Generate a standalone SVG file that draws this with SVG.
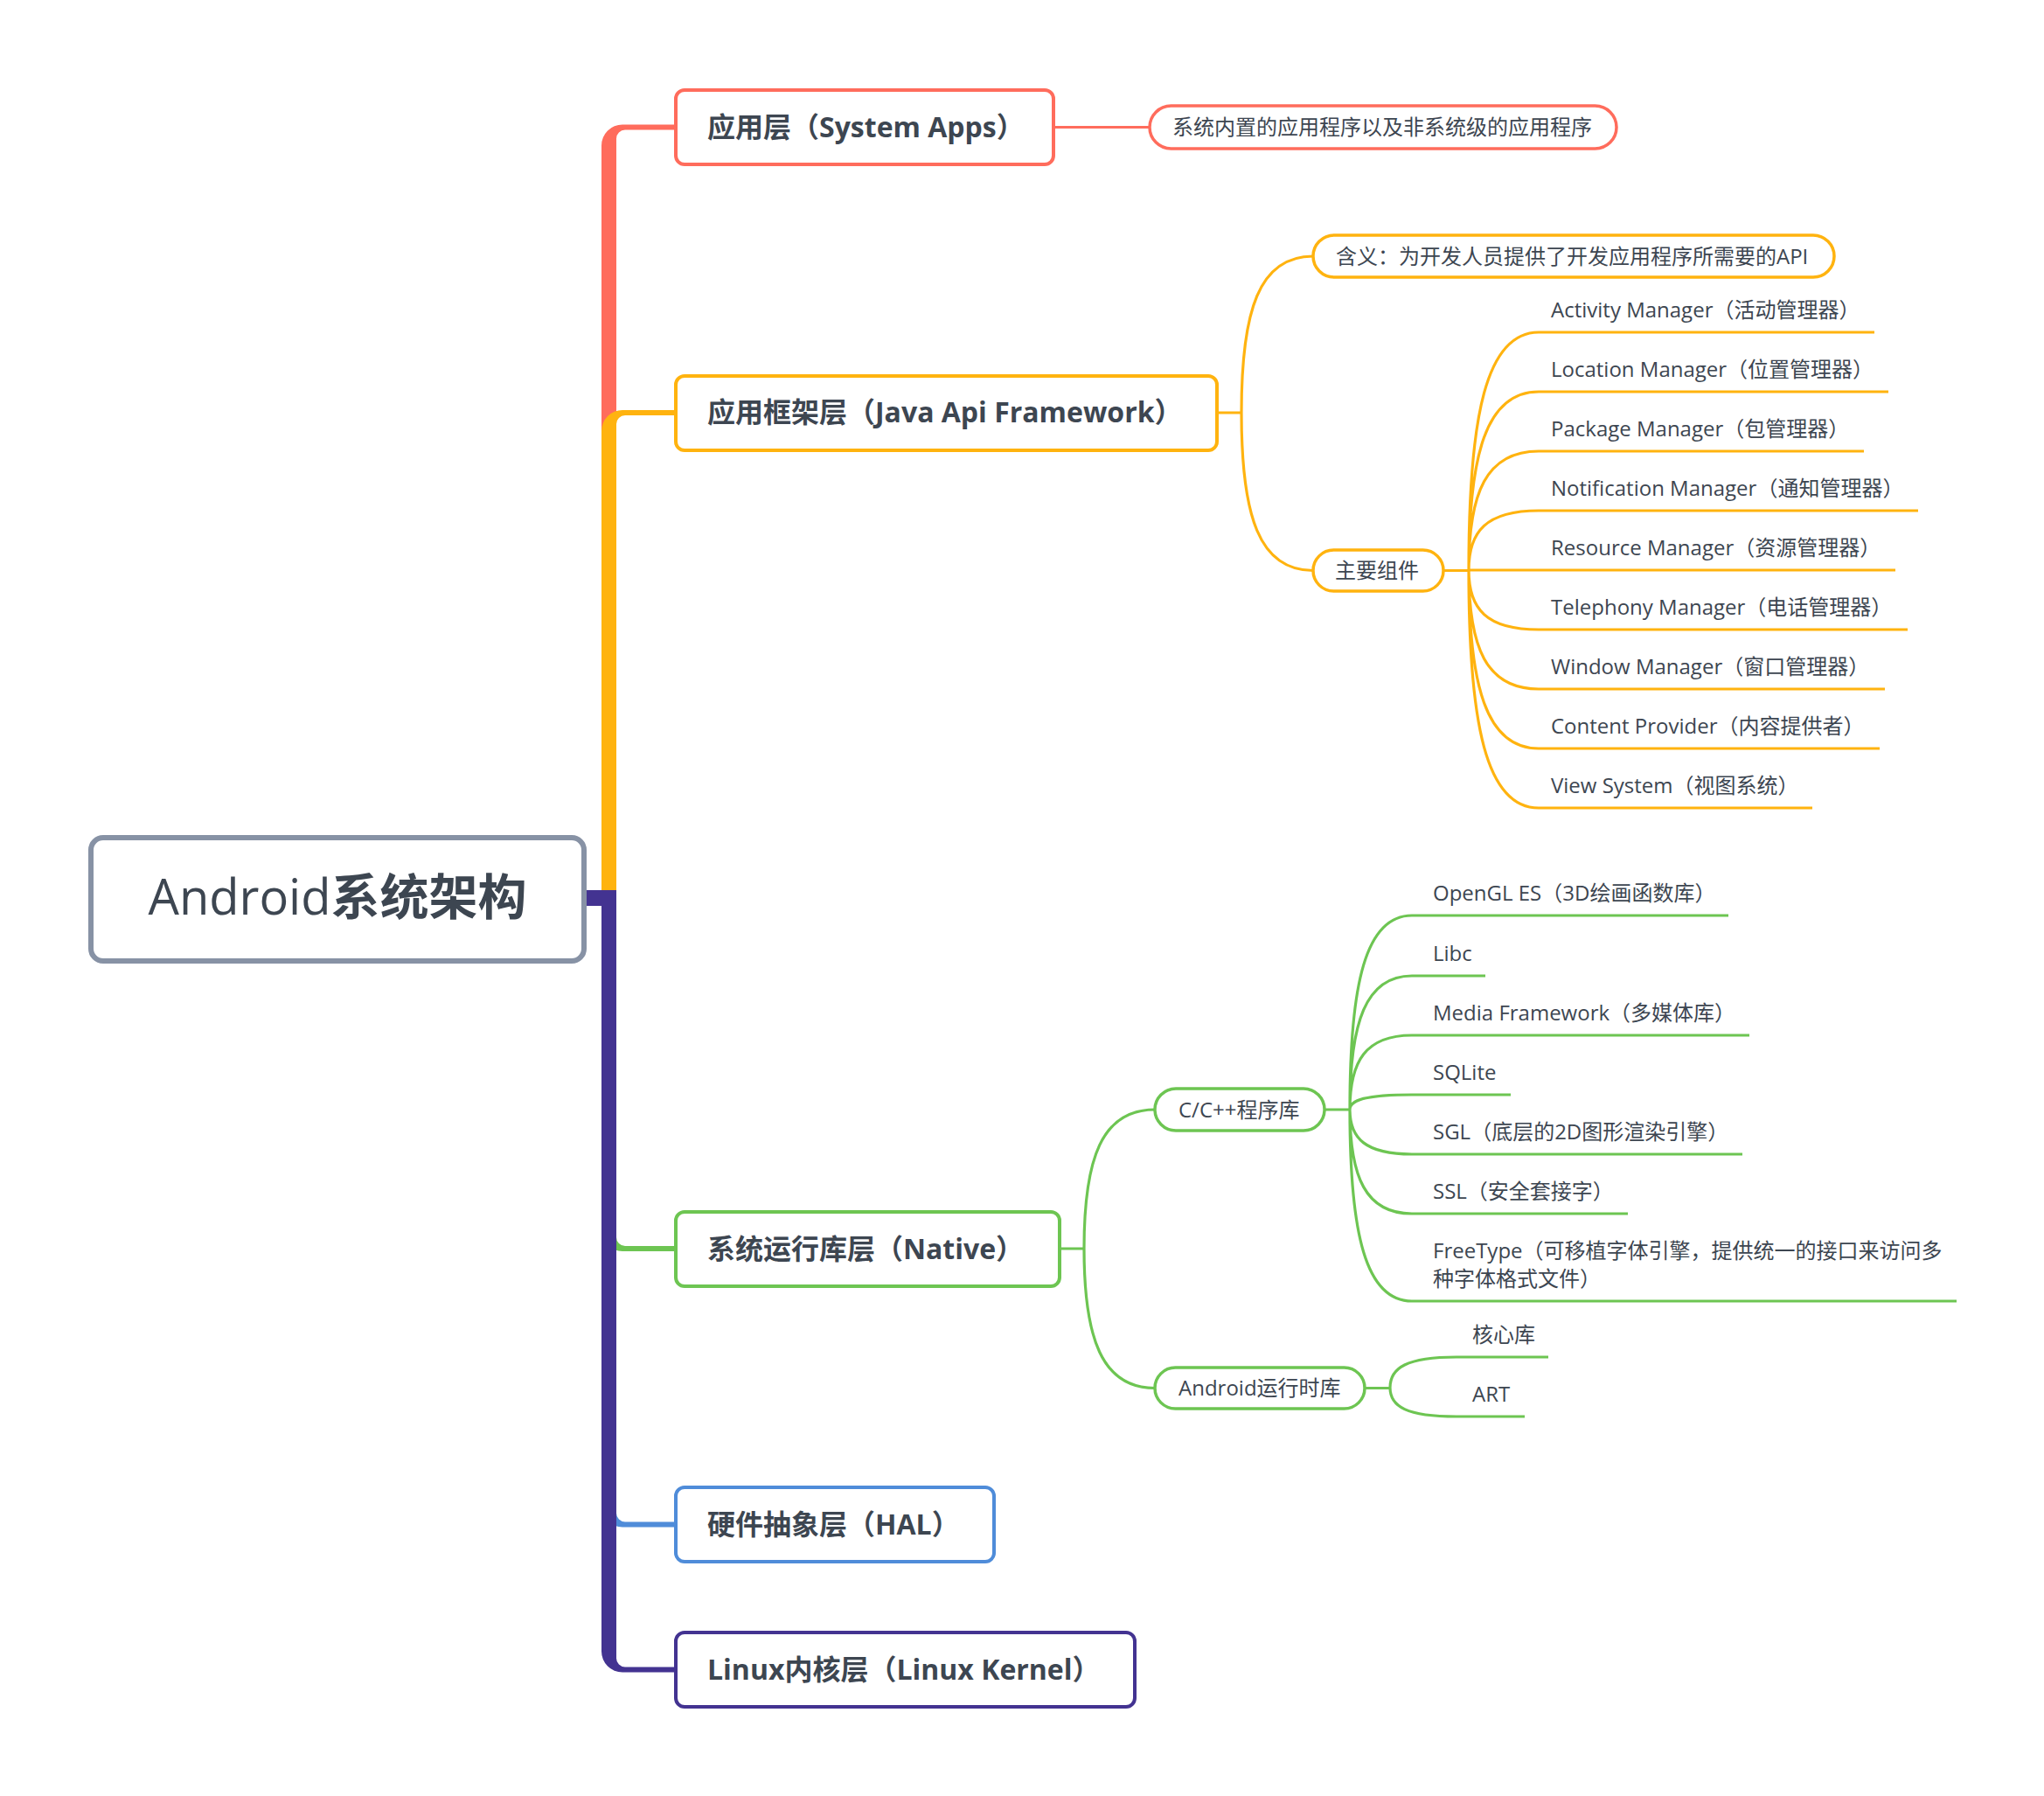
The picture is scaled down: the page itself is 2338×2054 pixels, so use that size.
<svg xmlns="http://www.w3.org/2000/svg" width="2338" height="2054" viewBox="0 0 2338 2054">
<style>
text{font-family:"Open Sans","Noto Sans CJK SC",sans-serif;fill:#3D4651}
.root{font-size:56px}
.main{font-size:32px;font-weight:bold}
.sub{font-size:24px}
.leaf{font-size:24px}
.box{fill:#fff;stroke-width:4}
.pill{fill:#fff;stroke-width:3.5}
.ln{fill:none;stroke-width:3.2}
.red{stroke:#FF6C5C}.yel{stroke:#FFB30F}.grn{stroke:#6DC552}.blu{stroke:#4F8CD9}.pur{stroke:#433391}
</style>
<rect width="2338" height="2054" fill="#fff"/>
<g id="connectors">
<path d="M660,1036 H705 V158.5 A10,10 0 0 1 715,148.5 H775 V142.5 H712 A24,24 0 0 0 688,166.5 V1018 H660 Z" fill="#FF6C5C"/>
<path d="M660,1036 H705 V485 A10,10 0 0 1 715,475 H775 V469 H712 A24,24 0 0 0 688,493 V1018 H660 Z" fill="#FFB30F"/>
<path d="M660,1018 H705 V1415 A10,10 0 0 0 715,1425 H775 V1431 H712 A24,24 0 0 1 688,1407 V1036 H660 Z" fill="#6DC552"/>
<path d="M660,1018 H705 V1730.5 A10,10 0 0 0 715,1740.5 H775 V1746.5 H712 A24,24 0 0 1 688,1722.5 V1036 H660 Z" fill="#4F8CD9"/>
<path d="M660,1018 H705 V1896.5 A10,10 0 0 0 715,1906.5 H775 V1912.5 H712 A24,24 0 0 1 688,1888.5 V1036 H660 Z" fill="#433391"/>
<path class="ln red" d="M1205,145.5 H1315"/>
<path class="ln yel" d="M1392,472 H1420 M1420,472 C1420,355 1440,293 1502,293 M1420,472 C1420,590 1440,652.5 1502,652.5"/>
<path class="ln yel" d="M1651,652.5 H1680 M1680,652 C1680,475.2 1700,380 1760,380 H2144 M1680,652 C1680,519.4 1700,448 1760,448 H2160 M1680,652 C1680,563.6 1700,516 1760,516 H2132 M1680,652 C1680,607.8 1700,584 1760,584 H2194 M1680,652 H2168 M1680,652 C1680,696.2 1700,720 1760,720 H2182 M1680,652 C1680,740.4 1700,788 1760,788 H2156 M1680,652 C1680,784.6 1700,856 1760,856 H2150 M1680,652 C1680,828.8 1700,924 1760,924 H2073"/>
<path class="ln grn" d="M1212,1428 H1240 M1240,1428 C1240,1325 1260,1269 1321,1269 M1240,1428 C1240,1530 1260,1587.5 1321,1587.5"/>
<path class="ln grn" d="M1515,1269 H1544 M1544,1269 C1544,1124.7 1562,1047 1615,1047 H1977 M1544,1269 C1544,1169.5 1562,1116 1615,1116 H1699 M1544,1269 C1544,1213.8 1562,1184 1615,1184 H2001 M1544,1269 C1544,1258 1562,1252 1615,1252 H1728 M1544,1269 C1544,1302 1562,1320 1615,1320 H1993 M1544,1269 C1544,1346 1562,1388 1615,1388 H1862 M1544,1269 C1544,1411 1562,1488 1615,1488 H2238"/>
<path class="ln grn" d="M1561,1587.5 H1590 M1590,1587 C1590,1564.4 1609,1552 1666,1552 H1771 M1590,1587 C1590,1608.6 1609,1620 1666,1620 H1744"/>
</g>
<g id="root">
<rect x="104" y="958" width="564" height="141" rx="14" fill="#fff" stroke="#8792A5" stroke-width="6"/>
<text class="root" x="386" y="1046" text-anchor="middle">Android<tspan font-weight="bold">系统架构</tspan></text>
</g>
<g id="apps">
<rect class="box red" x="773" y="103" width="432" height="85" rx="10"/>
<text class="main" x="809" y="156.5">应用层（System Apps）</text>
</g>
<g id="apps-desc">
<rect class="pill red" x="1315" y="121" width="534" height="49" rx="24.5"/>
<text class="sub" x="1341" y="154">系统内置的应用程序以及非系统级的应用程序</text>
</g>
<g id="framework">
<rect class="box yel" x="773" y="430" width="619" height="85" rx="10"/>
<text class="main" x="809" y="483">应用框架层（Java Api Framework）</text>
</g>
<g id="framework-meaning">
<rect class="pill yel" x="1502" y="269" width="596" height="48" rx="24"/>
<text class="sub" x="1528" y="301.5">含义：为开发人员提供了开发应用程序所需要的API</text>
</g>
<g id="framework-components">
<rect class="pill yel" x="1502" y="629" width="149" height="47" rx="23.5"/>
<text class="sub" x="1527" y="661">主要组件</text>
</g>
<g id="framework-leaves">
<text class="leaf" x="1774" y="363">Activity Manager（活动管理器）</text>
<text class="leaf" x="1774" y="431">Location Manager（位置管理器）</text>
<text class="leaf" x="1774" y="499">Package Manager（包管理器）</text>
<text class="leaf" x="1774" y="567">Notification Manager（通知管理器）</text>
<text class="leaf" x="1774" y="635">Resource Manager（资源管理器）</text>
<text class="leaf" x="1774" y="703">Telephony Manager（电话管理器）</text>
<text class="leaf" x="1774" y="771">Window Manager（窗口管理器）</text>
<text class="leaf" x="1774" y="839">Content Provider（内容提供者）</text>
<text class="leaf" x="1774" y="907">View System（视图系统）</text>
</g>
<g id="native">
<rect class="box grn" x="773" y="1386" width="439" height="85" rx="10"/>
<text class="main" x="809" y="1439.5">系统运行库层（Native）</text>
</g>
<g id="cpp-libs">
<rect class="pill grn" x="1321" y="1245" width="194" height="48" rx="24"/>
<text class="sub" x="1348" y="1277.5">C/C++程序库</text>
</g>
<g id="cpp-leaves">
<text class="leaf" x="1639" y="1030">OpenGL ES（3D绘画函数库）</text>
<text class="leaf" x="1639" y="1099">Libc</text>
<text class="leaf" x="1639" y="1167">Media Framework（多媒体库）</text>
<text class="leaf" x="1639" y="1235">SQLite</text>
<text class="leaf" x="1639" y="1303">SGL（底层的2D图形渲染引擎）</text>
<text class="leaf" x="1639" y="1371">SSL（安全套接字）</text>
<text class="leaf" x="1639" y="1439">FreeType（可移植字体引擎，提供统一的接口来访问多</text>
<text class="leaf" x="1639" y="1471">种字体格式文件）</text>
</g>
<g id="runtime">
<rect class="pill grn" x="1321" y="1564" width="240" height="47" rx="23.5"/>
<text class="sub" x="1348" y="1595.5">Android运行时库</text>
</g>
<g id="runtime-leaves">
<text class="leaf" x="1684" y="1535">核心库</text>
<text class="leaf" x="1684" y="1603">ART</text>
</g>
<g id="hal">
<rect class="box blu" x="773" y="1701" width="364" height="85" rx="10"/>
<text class="main" x="809" y="1755">硬件抽象层（HAL）</text>
</g>
<g id="kernel">
<rect class="box pur" x="773" y="1867" width="525" height="85" rx="10"/>
<text class="main" x="809" y="1921">Linux内核层（Linux Kernel）</text>
</g>
</svg>
